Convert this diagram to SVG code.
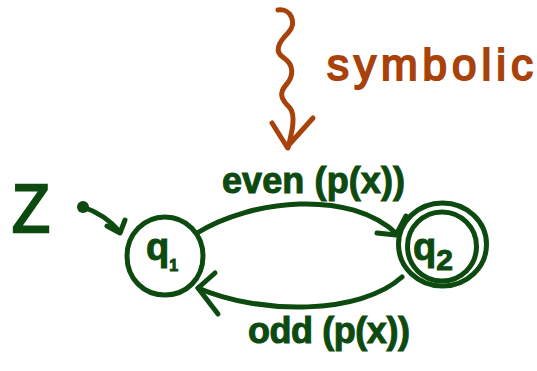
<svg xmlns="http://www.w3.org/2000/svg" width="537" height="371" viewBox="0 0 537 371">
<style>
.g{fill:none;stroke:#0d4a10;stroke-width:5;stroke-linecap:round;stroke-linejoin:round}
.o{fill:none;stroke:#a8410a;stroke-width:5;stroke-linecap:round;stroke-linejoin:round}
.tg{fill:#0d4a10;stroke:#0d4a10;stroke-width:1;font-family:"Liberation Sans",Arial,sans-serif;font-weight:bold}
.to{fill:#a8410a;stroke:#a8410a;stroke-width:2;font-family:"Liberation Sans",Arial,sans-serif}
.tz{fill:#0d4a10;stroke:#0d4a10;stroke-width:2.5;font-family:"Liberation Sans",Arial,sans-serif;font-weight:normal}
</style>
<rect width="537" height="371" fill="#ffffff"/>
<g id="annotation">
<path class="o" d="M278,10 C290,8 298,22 288,33 C278,43 274,52 284,58 C294,65 294,76 286,85 C278,94 282,100 290,108 C296,116 292,132 288,148"/>
<path class="o" d="M272,123 L287,147 L313,118"/>
<text class="to" x="327" y="80" font-size="44" textLength="206" lengthAdjust="spacing">symbolic</text>
</g>
<g id="domain">
<text class="tz" x="12" y="232" font-size="68" textLength="38" lengthAdjust="spacingAndGlyphs">Z</text>
</g>
<g id="q1">
<path class="g" d="M165,217 C186,217 203,234 203,256 C203,279 186,295 165,295 C144,295 127,279 127,256 C127,234 144,217 165,217 Z"/>
<text class="tg" x="146" y="260" font-size="38">q<tspan font-size="16" dy="11">1</tspan></text>
</g>
<g id="q2">
<circle class="g" cx="442" cy="246.5" r="34.5"/>
<ellipse class="g" cx="442.5" cy="244.5" rx="44" ry="41.5"/>
<text class="tg" x="413" y="260" font-size="38">q<tspan font-size="30" dy="10">2</tspan></text>
</g>
<g id="connectors">
<circle cx="83" cy="207" r="6" fill="#0d4a10"/>
<path class="g" d="M83,207 C98,212 110,220 120,232"/>
<path class="g" d="M107,226 L120,233 L125,220"/>
<path class="g" d="M197,233 C250,200 350,188 398,235"/>
<path class="g" d="M377,233 L396,235 L406,216"/>
<path class="g" d="M402,277 C360,315 260,315 198,288"/>
<path class="g" d="M215,273 L198,288 L218,314"/>
<text class="tg" x="222" y="193" font-size="36" textLength="183" lengthAdjust="spacing">even (p(x))</text>
<text class="tg" x="248" y="343" font-size="36" textLength="162" lengthAdjust="spacing">odd (p(x))</text>
</g>
</svg>
